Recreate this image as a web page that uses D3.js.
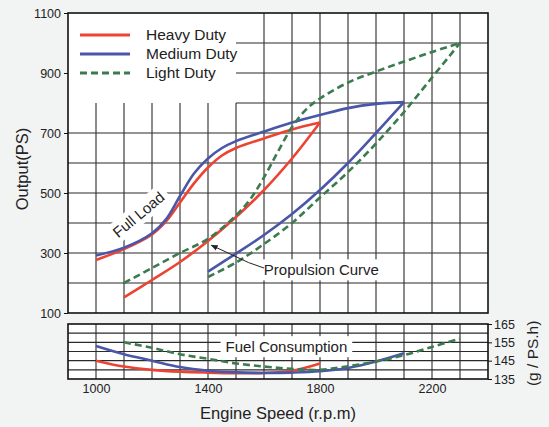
<!DOCTYPE html>
<html>
<head>
<meta charset="utf-8">
<script src="https://cdn.jsdelivr.net/npm/d3@7"></script>
<style>
  body { margin: 0; background: #f2f3f3; }
  text { font-family: "Liberation Sans Narrow", "Arial Narrow", "Liberation Sans", Arial, sans-serif; fill: #222; }
</style>
</head>
<body>
<div id="chart"></div>
<script>
// engine performance curves

var rpmTicks = [1000, 1400, 1800, 2200];
var outputTicks = [100, 300, 500, 700, 900, 1100];
var fuelTicks = [135, 145, 155, 165];

var seriesNames = ["Heavy Duty", "Medium Duty", "Light Duty"];

// output (PS) vs rpm
var heavyFull = [[1000, 277], [1100, 313], [1200, 362], [1250, 405], [1300, 468], [1350, 532], [1400, 585], [1450, 625], [1500, 650], [1600, 682], [1700, 712], [1800, 735]];
var heavyProp = [[1100, 152], [1200, 210], [1300, 270], [1400, 340], [1500, 420], [1600, 510], [1700, 615], [1800, 735]];
var mediumFull = [[1000, 292], [1100, 318], [1200, 366], [1250, 412], [1300, 490], [1350, 565], [1400, 615], [1450, 650], [1500, 673], [1600, 705], [1700, 735], [1800, 760], [1900, 783], [2000, 797], [2100, 803]];
var mediumProp = [[1400, 238], [1500, 298], [1600, 360], [1700, 430], [1800, 510], [1900, 600], [2000, 700], [2100, 803]];
var lightFull = [[1100, 200], [1200, 250], [1300, 300], [1400, 347], [1500, 425], [1550, 478], [1600, 552], [1650, 638], [1700, 720], [1750, 778], [1800, 815], [1900, 868], [2000, 905], [2100, 938], [2200, 970], [2300, 1000]];
var lightProp = [[1400, 220], [1500, 268], [1600, 330], [1700, 400], [1800, 485], [1900, 570], [2000, 665], [2100, 770], [2200, 885], [2300, 1000]];

// fuel consumption (g/PS.h) vs rpm
var heavyFuel = [[1000, 145], [1100, 141.8], [1200, 140], [1300, 139], [1400, 138.5], [1500, 138.2], [1600, 138.3], [1700, 139.5], [1800, 143.5]];
var mediumFuel = [[1000, 153], [1100, 148.5], [1200, 145], [1300, 141.5], [1400, 139.5], [1500, 138.6], [1600, 138.3], [1700, 138.5], [1800, 139.2], [1900, 141], [2000, 144.5], [2100, 149]];
var lightFuel = [[1100, 155], [1200, 152], [1300, 148.5], [1400, 146], [1500, 143.5], [1600, 141.8], [1700, 140.5], [1800, 140], [1900, 142], [2000, 144.5], [2100, 148], [2200, 152.5], [2300, 157]];

var width = 549, height = 427;

var svg = d3.select("#chart").append("svg")
  .attr("width", width)
  .attr("height", height);

var x = d3.scaleLinear().domain([900, 2400]).range([68, 488]);
var y = d3.scaleLinear().domain([100, 1100]).range([313, 13]);
var yf = d3.scaleLinear().domain([135, 165]).range([379, 324]);

var colors = ["#ec4333", "#4a56a8", "#3b7b4e"];
var dashes = [null, null, "7,4"];

// panels
svg.append("rect").attr("x", x(900)).attr("y", y(1100))
  .attr("width", x(2400) - x(900)).attr("height", y(100) - y(1100)).attr("fill", "#fff");
svg.append("rect").attr("x", x(900)).attr("y", yf(165))
  .attr("width", x(2400) - x(900)).attr("height", yf(135) - yf(165)).attr("fill", "#fff");

var grid = svg.append("g").attr("stroke", "#2a2a2a").attr("stroke-width", 1.1);

// upper grid
grid.selectAll("line.v").data(d3.range(1000, 2400, 100)).enter().append("line")
  .attr("x1", d => x(d)).attr("x2", d => x(d))
  .attr("y1", d => d <= 1500 ? y(800) : y(1100)).attr("y2", y(100));
grid.selectAll("line.h").data(d3.range(200, 1100, 100)).enter().append("line")
  .attr("y1", d => y(d)).attr("y2", d => y(d))
  .attr("x1", d => d >= 800 ? x(1500) : x(900)).attr("x2", x(2400));

// lower grid
grid.selectAll("line.fv").data(d3.range(1000, 2400, 100)).enter().append("line")
  .attr("x1", d => x(d)).attr("x2", d => x(d))
  .attr("y1", yf(165)).attr("y2", yf(135));
grid.selectAll("line.fh").data(d3.range(140, 165, 5)).enter().append("line")
  .attr("y1", d => yf(d)).attr("y2", d => yf(d))
  .attr("x1", x(900)).attr("x2", x(2400));

// frames
svg.append("rect").attr("x", x(900)).attr("y", y(1100))
  .attr("width", x(2400) - x(900)).attr("height", y(100) - y(1100))
  .attr("fill", "none").attr("stroke", "#111").attr("stroke-width", 1.6);
svg.append("rect").attr("x", x(900)).attr("y", yf(165))
  .attr("width", x(2400) - x(900)).attr("height", yf(135) - yf(165))
  .attr("fill", "none").attr("stroke", "#111").attr("stroke-width", 1.6);

// axes
var yAxis = d3.axisLeft(y).tickValues(outputTicks).tickFormat(d3.format("d")).tickSize(4).tickPadding(3);
svg.append("g").attr("transform", "translate(" + x(900) + ",0)").call(yAxis)
  .call(g => g.select(".domain").remove())
  .selectAll("text").attr("font-size", 12.5);

var xAxis = d3.axisBottom(x).tickValues(rpmTicks).tickFormat(d3.format("d")).tickSize(0).tickPadding(5);
svg.append("g").attr("transform", "translate(0," + yf(135) + ")").call(xAxis)
  .call(g => g.select(".domain").remove())
  .selectAll("text").attr("font-size", 12.5);

var fAxis = d3.axisRight(yf).tickValues(fuelTicks).tickFormat(d3.format("d")).tickSize(4).tickPadding(2);
svg.append("g").attr("transform", "translate(" + x(2400) + ",0)").call(fAxis)
  .call(g => g.select(".domain").remove())
  .selectAll("text").attr("font-size", 12.5);

svg.selectAll(".tick line").attr("stroke", "#111");

// axis titles
svg.append("text").attr("transform", "translate(28," + y(580) + ")rotate(-90)")
  .attr("text-anchor", "middle").attr("font-size", 16.5).text("Output(PS)");
svg.append("text").attr("x", x(1650)).attr("y", 419)
  .attr("text-anchor", "middle").attr("font-size", 16.5).text("Engine Speed (r.p.m)");
svg.append("text").attr("transform", "translate(538," + yf(149) + ")rotate(-90)")
  .attr("text-anchor", "middle").attr("font-size", 15.5).text("(g / PS.h)");

// label boxes that mask the grid
function boxedText(tx, ty, str, size, rot) {
  var g = svg.append("g").attr("transform", "translate(" + tx + "," + ty + ")rotate(" + (rot || 0) + ")");
  var bg = g.append("rect").attr("fill", "#fff");
  var t = g.append("text").attr("text-anchor", "middle").attr("dy", "0.35em")
    .attr("font-size", size).text(str);
  var bb = t.node().getBBox();
  bg.attr("x", bb.x - 5).attr("y", bb.y - 2).attr("width", bb.width + 10).attr("height", bb.height + 4);
  return g;
}

boxedText(x(1680), yf(152.5), "Fuel Consumption", 15, 0);
boxedText(x(1805), y(243), "Propulsion Curve", 15, 0);
boxedText(x(1152), y(428), "Full Load", 15, -40);

// curves
var line = d3.line().x(d => x(d[0])).y(d => y(d[1])).curve(d3.curveCatmullRom.alpha(0.5));
var fline = d3.line().x(d => x(d[0])).y(d => yf(d[1])).curve(d3.curveCatmullRom.alpha(0.5));

var outputSets = [[heavyFull, heavyProp], [mediumFull, mediumProp], [lightFull, lightProp]];
var fuelSets = [heavyFuel, mediumFuel, lightFuel];

outputSets.forEach(function(set, i) {
  set.forEach(function(pts) {
    svg.append("path").datum(pts).attr("d", line)
      .attr("fill", "none").attr("stroke", colors[i]).attr("stroke-width", 2.6)
      .attr("stroke-dasharray", dashes[i]);
  });
  svg.append("path").datum(fuelSets[i]).attr("d", fline)
    .attr("fill", "none").attr("stroke", colors[i]).attr("stroke-width", 2.6)
    .attr("stroke-dasharray", dashes[i]);
});

// arrow to propulsion curve
svg.append("defs").append("marker").attr("id", "arr")
  .attr("viewBox", "0 0 10 10").attr("refX", 9).attr("refY", 5)
  .attr("markerWidth", 7).attr("markerHeight", 7).attr("orient", "auto")
  .append("path").attr("d", "M0,1L10,5L0,9z").attr("fill", "#222");
svg.append("path")
  .attr("d", "M" + x(1600) + "," + y(250) + "L" + x(1545) + "," + y(268) + "L" + x(1412) + "," + y(326))
  .attr("fill", "none").attr("stroke", "#222").attr("stroke-width", 1)
  .attr("marker-end", "url(#arr)");

// legend
var legend = svg.append("g");
seriesNames.forEach(function(name, i) {
  var ly = 35 + i * 19;
  legend.append("line").attr("x1", 80).attr("x2", 130).attr("y1", ly).attr("y2", ly)
    .attr("stroke", colors[i]).attr("stroke-width", 2.8).attr("stroke-dasharray", dashes[i]);
  legend.append("text").attr("x", 146).attr("y", ly).attr("dy", "0.35em")
    .attr("font-size", 15.5).text(name);
});
</script>
</body>
</html>
